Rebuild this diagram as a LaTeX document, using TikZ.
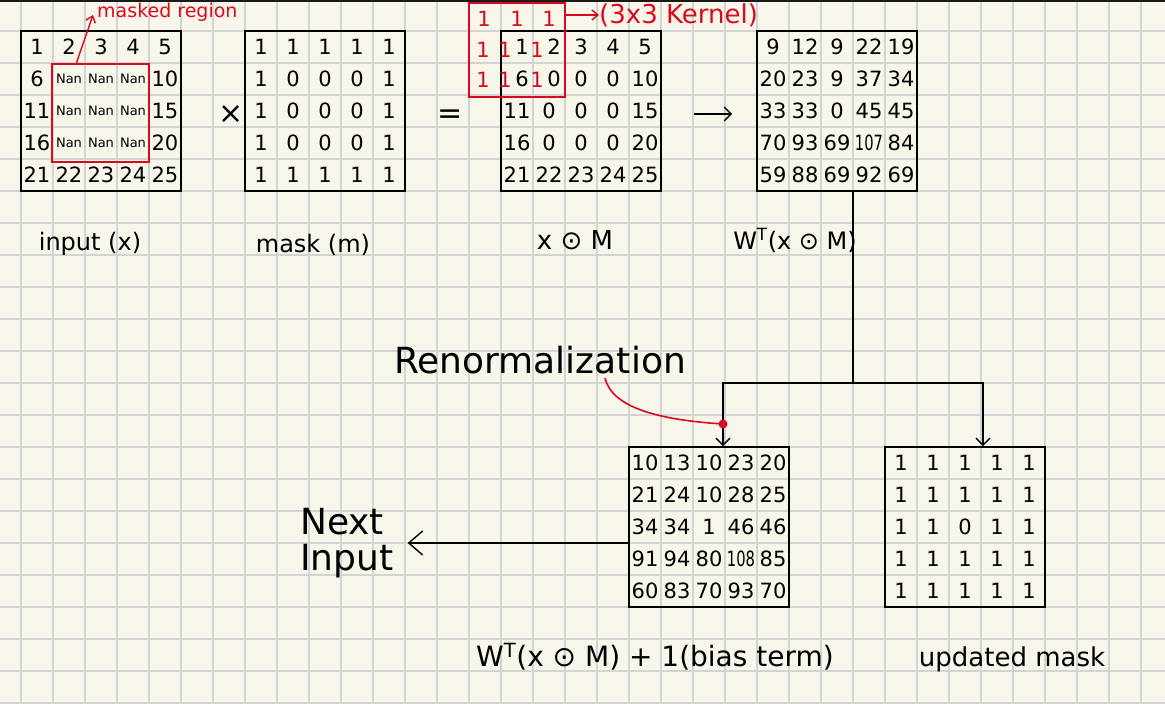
\documentclass[tikz,border=0pt]{standalone}
\usepackage{fontspec}
\setmainfont{DejaVu Sans}
\usetikzlibrary{arrows.meta,calc}
\definecolor{paper}{HTML}{F8F6EA}
\definecolor{gridc}{HTML}{D3D3D5}
\definecolor{inkred}{HTML}{DA0A1E}
\newcommand{\fsz}[1]{\fontsize{#1}{#1}\selectfont}
\newcommand{\sq}[1]{\scalebox{0.7}[1]{#1}}
\newcommand{\rt}[1]{\kern10pt #1}
\newcommand{\NaNcell}{{\fsz{13}Nan}}
\newcommand{\putcells}[4]{%
  \foreach \row [count=\j from 0] in {#4} {%
    \foreach \v [count=\i from 0] in \row {%
      \node[cell] (#1-\j-\i) at (#2+16+32*\i, #3+16+32*\j) {\v};
    }%
  }%
}
\tikzset{
  matbox/.style={draw=black, line width=1.6pt, minimum width=160pt, minimum height=160pt, inner sep=0pt},
  cell/.style={font=\fsz{21}, inner sep=0pt, text=black},
  redbox/.style={draw=inkred, line width=1.4pt, inner sep=0pt},
  redone/.style={font=\fsz{21}, text=inkred, inner sep=0pt},
  lbl/.style={font=\fsz{24}, inner sep=0pt, text=black},
  conn/.style={draw=black, line width=1.4pt},
  tipsmall/.style={-{Straight Barb[length=7pt,width=14pt,line width=1.4pt]}},
  tipbig/.style={-{Straight Barb[length=14pt,width=24pt,line width=1.4pt]}},
  redarr/.style={draw=inkred, line width=1.4pt, -{Straight Barb[length=6pt,width=10pt,line width=1.4pt]}},
}
\begin{document}
\begin{tikzpicture}[x=1pt,y=-1pt]
\useasboundingbox (0,0) rectangle (1165,704);
\fill[paper] (0,0) rectangle (1165,704);
% grid
\foreach \k in {0,...,35} { \draw[gridc, line width=1.5pt] (21+32*\k,0) -- (21+32*\k,704); }
\foreach \k in {0,...,21} { \draw[gridc, line width=1.5pt] (0,31+32*\k) -- (1165,31+32*\k); }
\fill[black!90] (0,0) rectangle (1165,1.5);

% matrices
\node[matbox] (m1) at (101,111) {};
\node[matbox] (m2) at (325,111) {};
\node[matbox] (m3) at (581,111) {};
\node[matbox] (m4) at (837,111) {};
\node[matbox] (m5) at (709,527) {};
\node[matbox] (m6) at (965,527) {};

\putcells{c1}{21}{31}{{1,2,3,4,5},{6,\NaNcell,\NaNcell,\NaNcell,10},{11,\NaNcell,\NaNcell,\NaNcell,15},{16,\NaNcell,\NaNcell,\NaNcell,20},{21,22,23,24,25}}
\putcells{c2}{245}{31}{{1,1,1,1,1},{1,0,0,0,1},{1,0,0,0,1},{1,0,0,0,1},{1,1,1,1,1}}
\putcells{c3}{501}{31}{{\rt{1},\rt{2},3,4,5},{\rt{6},\rt{0},0,0,10},{11,0,0,0,15},{16,0,0,0,20},{21,22,23,24,25}}
\putcells{c4}{757}{31}{{9,12,9,22,19},{20,23,9,37,34},{33,33,0,45,45},{70,93,69,\sq{107},84},{59,88,69,92,69}}
\putcells{c5}{629}{447}{{10,13,10,23,20},{21,24,10,28,25},{34,34,1,46,46},{91,94,80,\sq{108},85},{60,83,70,93,70}}
\putcells{c6}{885}{447}{{1,1,1,1,1},{1,1,1,1,1},{1,1,0,1,1},{1,1,1,1,1},{1,1,1,1,1}}

% masked region
\node[redbox, minimum width=97pt, minimum height=98pt] (mreg) at (100.5,113) {};
\node[font=\fsz{19}, text=inkred, anchor=west, inner sep=0pt] (mlab) at (97,12) {masked region};
\draw[redarr] ($(mreg.north west)+(25,0)$) -- ($(mlab.west)+(-4,3)$);

% kernel
\node[redbox, minimum width=96pt, minimum height=94pt] (kern) at (517,50) {};
\node[redone] (k00) at (484,19) {1};
\node[redone] (k01) at (517,19) {1};
\node[redone] (k02) at (549,19) {1};
\node[redone] (k10) at (483,50) {1};
\node[redone] (k11) at (505,50) {1};
\node[redone] (k12) at (537,50) {1};
\node[redone] (k20) at (483,80) {1};
\node[redone] (k21) at (505,80) {1};
\node[redone] (k22) at (537,80) {1};
\node[font=\fsz{26}, text=inkred, anchor=west, inner sep=0pt] (klab) at (599,15) {(3x3 Kernel)};
\draw[redarr] (kern.east |- klab.west) -- (klab.west);

% operators
\node[font=\fsz{30}, inner sep=0pt] (times) at (231,115) {×};
\node[font=\fsz{30}, inner sep=0pt] (eq) at (450,117) {=};
\draw[conn, tipsmall] ($(m3.east)+(32,3)$) -- ($(m4.west)+(-24,3)$);

% labels
\node[lbl] (l1) at (90,244) {input (x)};
\node[lbl] (l2) at (313,245) {mask (m)};
\node[lbl, font=\fsz{26}] (l3) at (575,240) {x ⊙ M};
\node[lbl] (l4) at (795,240) {W\textsuperscript{T}(x ⊙ M)};
\node[font=\fsz{36}, inner sep=0pt] (renorm) at (540,360) {Renormalization};
\node[font=\fsz{36}, align=left, anchor=west, inner sep=0pt] (next) at (300,543) {\fontsize{36}{39}\selectfont Next\\Input};
\node[font=\fsz{28}, inner sep=0pt] (l5) at (655,657) {W\textsuperscript{T}(x ⊙ M) + 1(bias term)};
\node[font=\fsz{26}, inner sep=0pt] (l6) at (1012,659) {updated mask};

% connectors
\coordinate (j) at (853,383);
\draw[conn] (m4.south -| j) -- (j);
\draw[conn, tipsmall] (j) -| ($(m5.north)+(14,0)$);
\draw[conn, tipsmall] (j) -| ($(m6.north)+(18,0)$);
\draw[conn, tipbig] ($(m5.west)+(0,16)$) -- ($(next.east)+(14,0)$);

% renormalization pointer
\coordinate (rs) at (605,378);
\coordinate (rd) at (723,424);
\draw[inkred, line width=1.6pt] (rs) .. controls (612,408) and (660,420) .. (rd);
\fill[inkred] (rd) circle (4.5);
\end{tikzpicture}
\end{document}
